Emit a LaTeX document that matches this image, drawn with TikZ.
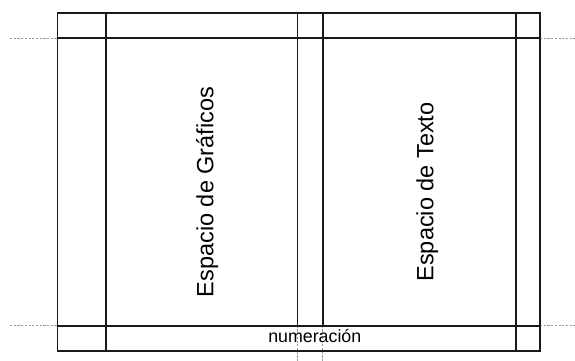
\documentclass[tikz,border=0pt]{standalone}
\usepackage{fontspec}
\setmainfont{Liberation Sans}
\begin{document}
\begin{tikzpicture}[x=1pt,y=-1pt,
  frame/.style={line width=1.6pt,black!90},
  guide/.style={line width=0.9pt,gray!80,dash pattern=on 2.2pt off 1.5pt},
  bigtext/.style={font=\fontsize{23.5}{28}\selectfont,rotate=90,anchor=base,inner sep=0pt},
  smalltext/.style={font=\fontsize{17.8}{21}\selectfont,anchor=base,inner sep=0pt}]
\useasboundingbox (0,0) rectangle (575,361);
% guides
\coordinate (gl1) at (10,38.3);
\coordinate (gl2) at (10,325.7);
\coordinate (gr1) at (575,38.3);
\coordinate (gr2) at (575,325.7);
\draw[guide] (gl1) -- (57.5,38.3);
\draw[guide] (gl2) -- (57.5,325.7);
\draw[guide] (540,38.3) -- (gr1);
\draw[guide] (540,325.7) -- (gr2);
\draw[guide] (297.3,325.7) -- (297.3,361);
\draw[guide] (322.7,325.7) -- (322.7,361);
% frame
\draw[frame] (57.5,13.3) rectangle (540,350.7);
\draw[frame] (57.5,38.3) -- (540,38.3);
\draw[frame] (57.5,325.7) -- (540,325.7);
\draw[frame] (106,13.3) -- (106,350.7);
\draw[frame] (516,13.3) -- (516,350.7);
\draw[frame] (297.3,13.3) -- (297.3,325.7);
\draw[frame] (322.7,13.3) -- (322.7,325.7);
% texts
\node[bigtext] (graf) at (213.3,192) {Espacio de Gráficos};
\node[bigtext] (text) at (433.3,192) {Espacio de Texto};
\node[smalltext] (num) at (314.8,342.5) {numeración};
\end{tikzpicture}
\end{document}
